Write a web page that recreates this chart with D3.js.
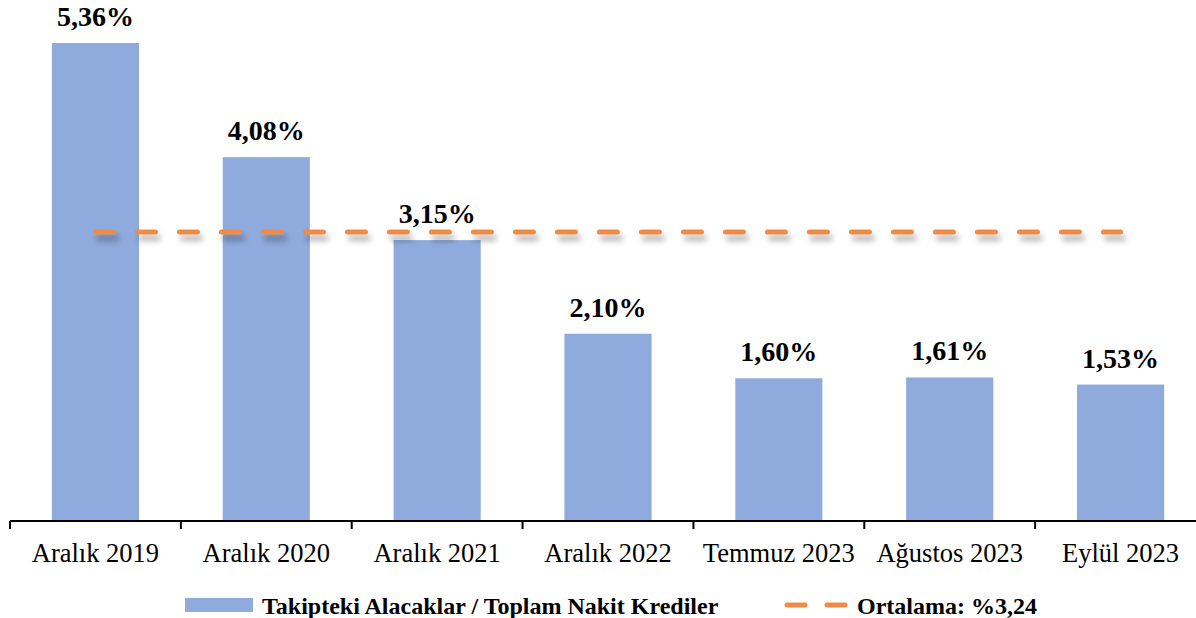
<!DOCTYPE html>
<html lang="tr">
<head>
  <meta charset="UTF-8">
  <title>Takipteki Alacaklar / Toplam Nakit Krediler</title>
  <script src="https://d3js.org/d3.v7.min.js"></script>
  <style>
    body {
      margin: 0;
      background-color: #fff;
    }
    svg {
      display: block;
      font-family: "Liberation Serif", "Times New Roman", serif;
    }
  </style>
</head>
<body>
  <svg width="1196" height="618"></svg>

  <script>
  const categories = ["Aralık 2019", "Aralık 2020", "Aralık 2021", "Aralık 2022", "Temmuz 2023", "Ağustos 2023", "Eylül 2023"];
  const ratios = [5.36, 4.08, 3.15, 2.10, 1.60, 1.61, 1.53];
  const average = 3.24;
  const seriesName = "Takipteki Alacaklar / Toplam Nakit Krediler";
  const averageName = "Ortalama: %3,24";

  const barColor = "#8faadc";
  const lineColor = "#ed8b47";

  const svg = d3.select("svg");
  const baseY = 521;

  const x = d3.scaleBand()
    .domain(categories)
    .range([10, 1206])
    .paddingInner(0.49)
    .paddingOuter(0.245);

  const y = d3.scaleLinear()
    .domain([0, 5.36])
    .range([baseY, 43]);

  const fmt = v => d3.format(".2f")(v).replace(".", ",") + "%";

  // shadow for the average line (user space, the line has no height)
  const defs = svg.append("defs");
  const shadow = defs.append("filter")
    .attr("id", "shadow")
    .attr("filterUnits", "userSpaceOnUse")
    .attr("x", 0).attr("y", 180)
    .attr("width", 1196).attr("height", 100);
  shadow.append("feGaussianBlur")
    .attr("in", "SourceAlpha")
    .attr("stdDeviation", 3)
    .attr("result", "blur");
  shadow.append("feOffset")
    .attr("in", "blur")
    .attr("dx", 3).attr("dy", 6)
    .attr("result", "off");
  shadow.append("feComponentTransfer")
    .attr("in", "off")
    .attr("result", "soft")
    .append("feFuncA").attr("type", "linear").attr("slope", 0.35);
  const merge = shadow.append("feMerge");
  merge.append("feMergeNode").attr("in", "soft");
  merge.append("feMergeNode").attr("in", "SourceGraphic");

  svg.selectAll("rect.bar")
    .data(ratios)
    .join("rect")
    .attr("class", "bar")
    .attr("x", (d, i) => x(categories[i]))
    .attr("y", d => y(d))
    .attr("width", x.bandwidth())
    .attr("height", d => baseY - y(d))
    .attr("fill", barColor);

  svg.selectAll("text.val")
    .data(ratios)
    .join("text")
    .attr("class", "val")
    .attr("x", (d, i) => x(categories[i]) + x.bandwidth() / 2)
    .attr("y", d => y(d) - 17)
    .attr("text-anchor", "middle")
    .attr("font-size", "28px")
    .attr("font-weight", "bold")
    .attr("fill", "#000")
    .text(fmt);

  // average line from first to last bar centre
  const avgLine = d3.line()
    .x(d => x(d) + x.bandwidth() / 2)
    .y(() => y(average));

  svg.append("path")
    .datum([categories[0], categories[categories.length - 1]])
    .attr("d", avgLine)
    .attr("fill", "none")
    .attr("stroke", lineColor)
    .attr("stroke-width", 5)
    .attr("stroke-linecap", "round")
    .attr("stroke-dasharray", "18 24")
    .attr("filter", "url(#shadow)");

  // x axis
  const axis = svg.append("g")
    .attr("transform", `translate(0,${baseY})`);
  axis.append("line")
    .attr("x1", 10).attr("x2", 1196)
    .attr("stroke", "#000").attr("stroke-width", 2);
  const step = x.step();
  axis.selectAll("line.tick")
    .data(d3.range(categories.length))
    .join("line")
    .attr("class", "tick")
    .attr("x1", i => 10 + i * step)
    .attr("x2", i => 10 + i * step)
    .attr("y1", 0).attr("y2", 8)
    .attr("stroke", "#000").attr("stroke-width", 2);
  axis.selectAll("text")
    .data(categories)
    .join("text")
    .attr("x", d => x(d) + x.bandwidth() / 2)
    .attr("y", 41)
    .attr("text-anchor", "middle")
    .attr("font-size", "26.5px")
    .attr("fill", "#000")
    .text(d => d);

  // legend
  const legend = svg.append("g");
  legend.append("rect")
    .attr("x", 185).attr("y", 598)
    .attr("width", 68).attr("height", 14)
    .attr("fill", barColor);
  legend.append("text")
    .attr("x", 262).attr("y", 614)
    .attr("font-size", "24px")
    .attr("font-weight", "bold")
    .text(seriesName);
  legend.append("line")
    .attr("x1", 787).attr("x2", 849)
    .attr("y1", 605).attr("y2", 605)
    .attr("stroke", lineColor)
    .attr("stroke-width", 5)
    .attr("stroke-linecap", "round")
    .attr("stroke-dasharray", "18 22");
  legend.append("text")
    .attr("x", 857).attr("y", 614)
    .attr("font-size", "24px")
    .attr("font-weight", "bold")
    .text(averageName);
  </script>
</body>
</html>
